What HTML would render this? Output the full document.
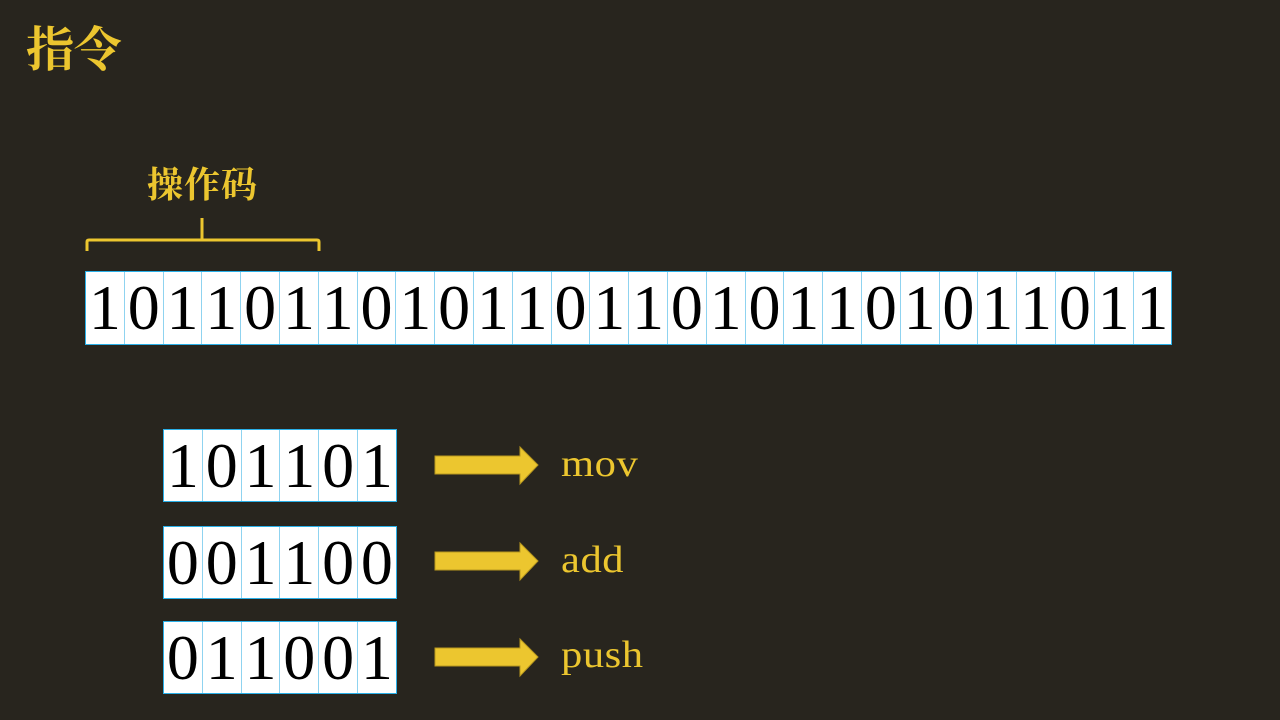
<!DOCTYPE html>
<html><head><meta charset="utf-8"><style>
body{margin:0;width:1280px;height:720px;background:#28251e;overflow:hidden;position:relative;font-family:"Liberation Serif","Noto Serif CJK SC",serif;}
.t{position:absolute;color:#ecc62f;}
.row{position:absolute;display:flex;border:1px solid #2ab0e8;background:#fff;}
.row div{width:37.8px;border-left:1px solid #8fd3f0;font-size:64px;line-height:72px;text-align:center;color:#000;}
.row div:first-child{border-left:none;}
.lb{font-size:38px;transform:scaleX(1.12);transform-origin:0 0;letter-spacing:0.5px;}
</style></head><body>
<div class="t" style="left:26px;top:11px;font-size:48px;font-weight:bold;">指令</div>
<div class="t" style="left:147px;top:157px;font-size:36px;font-weight:bold;letter-spacing:1px;">操作码</div>
<svg style="position:absolute;left:0;top:0" width="1280" height="720">
<path d="M87 251 V242 Q87 240 89 240 H317 Q319 240 319 242 V251 M202 240 V218" stroke="#ecc62f" stroke-width="3" fill="none"/>
<g fill="#ecc62f" stroke="#b8981f" stroke-width="1">
<path d="M435 456 H520 V447 L538 465 L520 484 V474 H435 Z"/>
<path d="M435 552 H520 V543 L538 561 L520 580 V570 H435 Z"/>
<path d="M435 648 H520 V639 L538 657 L520 676 V666 H435 Z"/>
</g>
</svg>
<div class="row" style="left:85px;top:271px;height:72px;">
<div>1</div><div>0</div><div>1</div><div>1</div><div>0</div><div>1</div><div>1</div><div>0</div><div>1</div><div>0</div><div>1</div><div>1</div><div>0</div><div>1</div><div>1</div><div>0</div><div>1</div><div>0</div><div>1</div><div>1</div><div>0</div><div>1</div><div>0</div><div>1</div><div>1</div><div>0</div><div>1</div><div>1</div>
</div>
<div class="row" style="left:163px;top:429px;height:71px;"><div>1</div><div>0</div><div>1</div><div>1</div><div>0</div><div>1</div></div>
<div class="row" style="left:163px;top:526px;height:71px;"><div>0</div><div>0</div><div>1</div><div>1</div><div>0</div><div>0</div></div>
<div class="row" style="left:163px;top:621px;height:71px;"><div>0</div><div>1</div><div>1</div><div>0</div><div>0</div><div>1</div></div>
<div class="t lb" style="left:561px;top:442px;">mov</div>
<div class="t lb" style="left:561px;top:538px;">add</div>
<div class="t lb" style="left:561px;top:633px;">push</div>
</body></html>
